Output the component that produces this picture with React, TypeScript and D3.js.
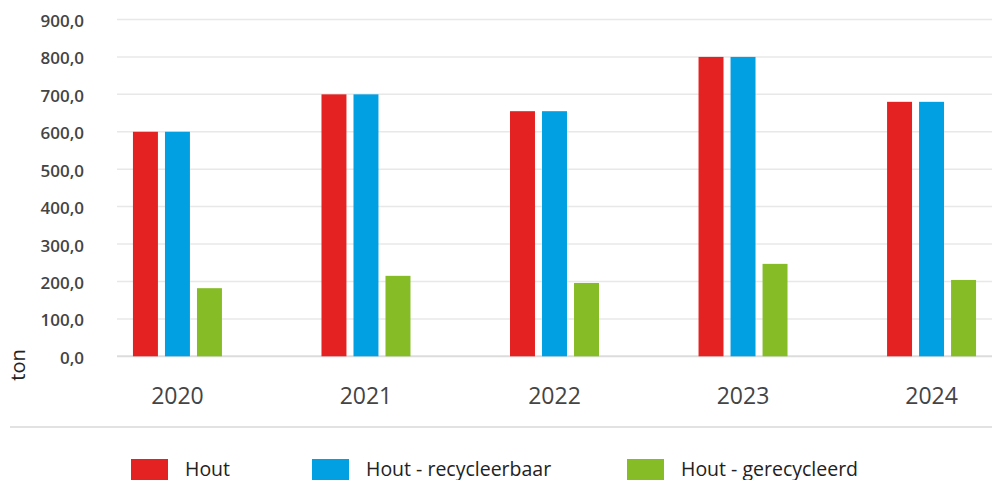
import React, { useEffect, useRef } from "react";
import * as d3 from "d3";

const years = ["2020", "2021", "2022", "2023", "2024"];
const series = ["Hout", "Hout - recycleerbaar", "Hout - gerecycleerd"];
const hout = [600, 700, 655, 800, 680];
const houtRecycleerbaar = [600, 700, 655, 800, 680];
const houtGerecycleerd = [182, 215, 196, 247, 204];
const colors = ["#e52222", "#00a0e2", "#86bc25"];
const yTicks = [0, 100, 200, 300, 400, 500, 600, 700, 800, 900];

export default function App() {
  const ref = useRef<SVGSVGElement>(null);

  useEffect(() => {
    const svg = d3.select(ref.current);
    svg.selectAll("*").remove();
    const width = 992;
    const font = "'Open Sans', sans-serif";

    const values = [hout, houtRecycleerbaar, houtGerecycleerd];
    const y = d3.scaleLinear().domain([0, 900]).range([356.3, 19.5]);
    const x0 = d3.scaleBand().domain(years).range([83, 1026]).paddingInner(0.528).paddingOuter(0.265);
    const x1 = d3.scaleBand().domain(series).range([0, x0.bandwidth()]).paddingInner(0.22);

    // grid
    svg.append("g")
      .selectAll("line")
      .data(yTicks)
      .enter()
      .append("line")
      .attr("x1", 117)
      .attr("x2", width)
      .attr("y1", d => y(d))
      .attr("y2", d => y(d))
      .attr("stroke", d => (d === 0 ? "#dcdcdc" : "#e8e8e8"))
      .attr("stroke-width", d => (d === 0 ? 2 : 1.5));

    // y tick labels
    svg.append("g")
      .selectAll("text")
      .data(yTicks)
      .enter()
      .append("text")
      .attr("x", 84)
      .attr("y", d => y(d) + 3)
      .attr("text-anchor", "end")
      .attr("dominant-baseline", "middle")
      .style("font-family", font)
      .style("font-size", "17px")
      .style("font-weight", 600)
      .style("fill", "#444")
      .text(d => d3.format(".1f")(d).replace(".", ","));

    // y title
    svg.append("text")
      .attr("transform", "translate(25,365) rotate(-90)")
      .attr("text-anchor", "middle")
      .style("font-family", font)
      .style("font-size", "20px")
      .style("fill", "#222")
      .text("ton");

    // bars
    const groups = svg.append("g")
      .selectAll("g")
      .data(years)
      .enter()
      .append("g")
      .attr("transform", d => "translate(" + x0(d) + ",0)");
    groups.selectAll("rect")
      .data((d, i) => series.map((s, j) => ({ s, v: values[j][i], j })))
      .enter()
      .append("rect")
      .attr("x", d => x1(d.s)!)
      .attr("width", x1.bandwidth())
      .attr("y", d => y(d.v))
      .attr("height", d => y(0) - y(d.v))
      .attr("fill", d => colors[d.j]);

    // x labels
    svg.append("g")
      .selectAll("text")
      .data(years)
      .enter()
      .append("text")
      .attr("x", d => x0(d)! + x0.bandwidth() / 2)
      .attr("y", 404)
      .attr("text-anchor", "middle")
      .style("font-family", font)
      .style("font-size", "23px")
      .style("fill", "#444")
      .text(d => d);

    // separator
    svg.append("line")
      .attr("x1", 10)
      .attr("x2", width)
      .attr("y1", 427)
      .attr("y2", 427)
      .attr("stroke", "#e2e2e2")
      .attr("stroke-width", 2);

    // legend
    const legendX = [131, 312, 627];
    const legend = svg.append("g")
      .selectAll("g")
      .data(series)
      .enter()
      .append("g")
      .attr("transform", (d, i) => "translate(" + legendX[i] + ",459)");
    legend.append("rect")
      .attr("width", 37)
      .attr("height", 24)
      .attr("fill", (d, i) => colors[i]);
    legend.append("text")
      .attr("x", 54)
      .attr("y", 17)
      .style("font-family", font)
      .style("font-size", "19.5px")
      .style("fill", "#222")
      .text(d => d);
  }, []);

  return (
    <svg
      ref={ref}
      width={992}
      height={480}
      style={{ position: "absolute", left: 0, top: 0, background: "#fff" }}
    />
  );
}
